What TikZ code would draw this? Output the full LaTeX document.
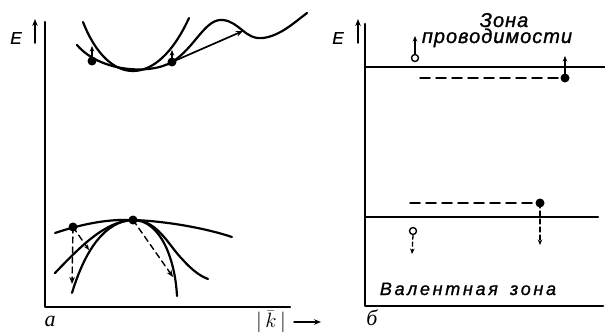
\documentclass[tikz,border=0pt]{standalone}
\usepackage{fontspec}
\setmainfont{Liberation Serif}
\newfontfamily\labA[LetterSpace=5,FakeBold=1.2]{Liberation Sans}
\newfontfamily\labB[LetterSpace=15,FakeBold=1.2]{Liberation Sans}
\newfontfamily\labE[FakeBold=1.2]{Liberation Sans}
\usetikzlibrary{arrows.meta}
\begin{document}
\begin{tikzpicture}[x=1pt,y=-1pt,line cap=round,line join=round,
  curve/.style={line width=2.2pt},
  axis/.style={line width=2.2pt},
  tip/.style={-{Stealth[length=7pt,width=5.5pt]}},
  smalltip/.style={-{Stealth[length=5.5pt,width=4.5pt]}},
  dsh/.style={dash pattern=on 10pt off 6pt,line width=1.5pt},
  sdsh/.style={dash pattern=on 6pt off 4pt,line width=1.4pt},
  dot/.style={circle,fill,inner sep=0pt,minimum size=9pt},
  hole/.style={circle,draw,line width=1.4pt,fill=white,inner sep=0pt,minimum size=7pt},
  txtA/.style={inner sep=0pt,align=center,font=\labA\itshape\fontsize{20}{16}\selectfont},
  txtB/.style={inner sep=0pt,font=\labB\itshape\fontsize{18}{18}\selectfont},
  etxt/.style={inner sep=0pt,font=\labE\itshape\fontsize{17}{17}\selectfont},
  plab/.style={inner sep=0pt,font=\itshape\fontsize{22}{22}\selectfont}]
\useasboundingbox (0,0) rectangle (605,334);

% ---------- panel a ----------
\coordinate (aT) at (45,22);
\coordinate (aO) at (45,307);
\coordinate (aR) at (290,307);
\draw[axis] (aT) -- (aO) -- (aR);
\node[etxt] (Ea) at (16,38) {E};
\coordinate (Ea0) at (35,43);
\coordinate (Ea1) at (35,19);
\draw[line width=1.4pt,tip] (Ea0) -- (Ea1);
\node[plab] (la) at (50,321) {а};
\node[inner sep=0pt,font=\fontsize{20}{20}\selectfont] (kk) at (271,322) {$|\,\bar{k}\,|$};
\coordinate (k0) at (294,322);
\coordinate (k1) at (321,322);
\draw[line width=1.4pt,tip] (k0) -- (k1);

% upper curves
\draw[curve] (83,22) .. controls (108,86) and (156,90) .. (189,18);
\node[dot] (d1) at (92,61) {};
\node[dot] (d2) at (172,62) {};
\draw[curve] (77,45) .. controls (100,72) and (150,75) .. (d2.center)
  .. controls (195,48) and (205,18) .. (223,20)
  .. controls (240,22) and (245,40) .. (263,38)
  .. controls (280,36) and (295,22) .. (307,13);
\coordinate (u1) at (243,31);
\draw[line width=1.7pt,tip] (d2.center) -- (u1);
\coordinate (v1) at (92,46);
\coordinate (v2) at (172,50);
\draw[line width=1.3pt,smalltip] (d1.center) -- (v1);
\draw[line width=1.3pt,smalltip] (d2.center) -- (v2);

% lower curves
\node[dot] (d3) at (73,227) {};
\node[dot] (d4) at (133,220) {};
\draw[curve] (55,233) .. controls (85,223) and (110,219) .. (d4.center)
  .. controls (165,221) and (205,228) .. (232,237);
\draw[curve] (55,273) .. controls (80,247) and (105,221) .. (d4.center)
  .. controls (158,220) and (168,245) .. (183,260)
  .. controls (192,270) and (200,276) .. (208,279);
\draw[curve] (72,293) .. controls (85,250) and (105,221) .. (d4.center)
  .. controls (160,220) and (175,258) .. (177,296);
\coordinate (w1) at (72,284);
\coordinate (w2) at (89,250);
\coordinate (w3) at (173,277);
\draw[sdsh,tip] (d3.center) -- (w1);
\draw[sdsh,smalltip] (d3.center) -- (w2);
\draw[sdsh,tip] (d4.center) -- (w3);

% ---------- panel b ----------
\coordinate (bT) at (365,24);
\coordinate (bO) at (365,306);
\coordinate (bR) at (603,306);
\draw[axis] (bT) -- (bO) -- (bR);
\node[etxt] (Eb) at (338,38) {E};
\coordinate (Eb0) at (358,43);
\coordinate (Eb1) at (358,19);
\draw[line width=1.4pt,tip] (Eb0) -- (Eb1);
\node[plab] (lb) at (372,318) {б};

\coordinate (c0) at (365,67);
\coordinate (c1) at (605,67);
\draw[axis] (c0) -- (c1);
\coordinate (vb0) at (365,217);
\coordinate (vb1) at (598,217);
\draw[axis] (vb0) -- (vb1);

\node[txtA,anchor=base] (z1) at (497,43) {\hspace*{14pt}Зона\\проводимости};
\node[txtB,anchor=base] (z3) at (468,295) {Валентная\hspace{12pt}зона};

% conduction-band carriers
\node[dot] (d5) at (565,78) {};
\coordinate (e0) at (420,78);
\draw[dsh] (e0) -- (d5.center);
\coordinate (e1) at (565,56);
\draw[line width=1.3pt,smalltip] (d5.center) -- (e1);
\node[hole] (h1) at (415,58) {};
\coordinate (h1t) at (415,36);
\draw[line width=1.3pt,smalltip] (h1.north) -- (h1t);

% valence-band carriers
\node[dot] (d6) at (540,203) {};
\coordinate (f0) at (410,203);
\draw[dsh] (f0) -- (d6.center);
\coordinate (f1) at (540,245);
\draw[dash pattern=on 5pt off 3pt,line width=1.3pt,smalltip] (d6.center) -- (f1);
\node[hole] (h2) at (413,231) {};
\coordinate (h2t) at (412,254);
\draw[dash pattern=on 4pt off 3pt,line width=1.3pt,smalltip] (h2.south) -- (h2t);
\end{tikzpicture}
\end{document}
